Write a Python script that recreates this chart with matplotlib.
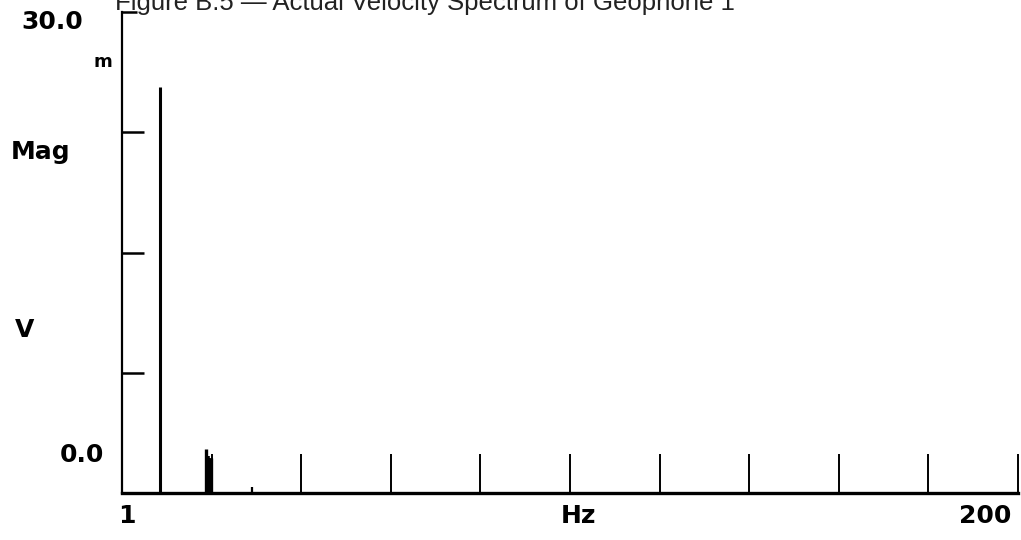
import numpy as np
import matplotlib
matplotlib.use("Agg")
import matplotlib.pyplot as plt

plt.rcParams['font.family'] = ['DejaVu Sans']

# spectrum lines (Hz, mV)
freq = [9.4, 19.6, 20.0, 20.4, 20.8, 29.9]
mag = [25.3, 2.75, 2.3, 2.2, 2.2, 0.35]
width = [2.2, 2.4, 2.6, 2.6, 2.4, 1.6]

x_min, x_max = 1, 200
y_min, y_max = 0, 30.0
y_ticks = [7.5, 15.0, 22.5]
title = "Figure B.5 \u2014 Actual Velocity Spectrum of Geophone 1"

fig = plt.figure(figsize=(10.21, 5.40), dpi=100)
ax = fig.add_axes([122/1021, 47/540, (1018-122)/1021, (493-12)/540])

ax.vlines(freq, 0, mag, colors='black', linewidth=width)

ax.set_xlim(x_min, x_max)
ax.set_ylim(y_min, y_max)

for s in ['top', 'right']:
    ax.spines[s].set_visible(False)
ax.spines['left'].set_linewidth(1.6)
ax.spines['bottom'].set_linewidth(2.4)

ax.set_xticks(np.linspace(x_min, x_max, 11)[1:])
ax.tick_params(axis='x', direction='in', length=28, width=1.4, labelbottom=False)
ax.set_yticks(y_ticks)
ax.set_yticks([y_max], minor=True)
ax.tick_params(axis='y', which='major', direction='in', length=16, width=1.8, labelleft=False)
ax.tick_params(axis='y', which='minor', direction='in', length=11, width=1.8)

def px(x, y, s, **kw):
    fig.text(x/1021, 1 - y/540, s, **kw)

lab = dict(fontsize=18, fontweight='bold', color='black')
px(52, 22, "30.0", ha='center', va='center', **lab)
px(103, 62, "m", ha='center', va='center', fontsize=13, fontweight='bold')
px(41, 152, "Mag", ha='center', va='center', **lab)
px(25, 330, "V", ha='center', va='center', **lab)
px(82, 455, "0.0", ha='center', va='center', **lab)
px(127, 516, "1", ha='center', va='center', **lab)
px(578, 516, "Hz", ha='center', va='center', **lab)
px(985, 516, "200", ha='center', va='center', **lab)

# the reference scan cuts the caption at the top edge
fig.text(115/1021, 1 - 10/540, title, ha='left', va='baseline',
         fontsize=18.5, family='Liberation Sans', color='#222222')

fig.savefig("out.png", dpi=100)
